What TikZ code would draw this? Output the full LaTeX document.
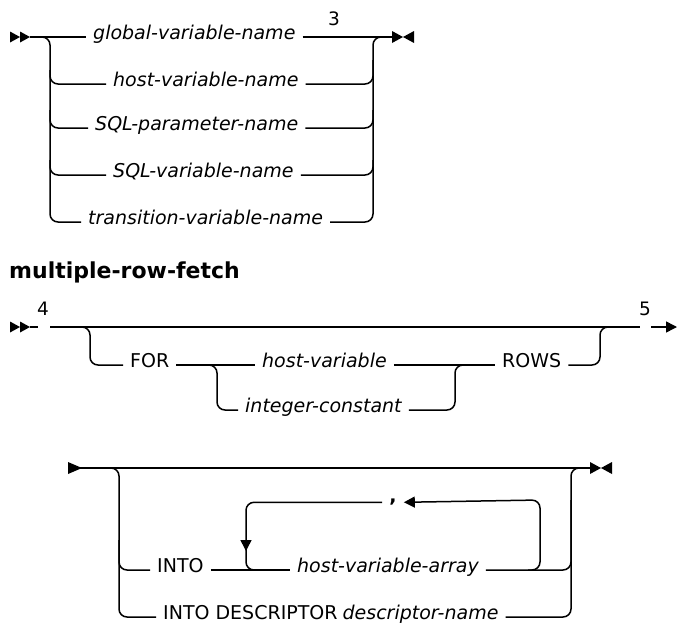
\documentclass[tikz,border=0pt]{standalone}
\usepackage{fontspec}
\setmainfont{DejaVu Sans}
\usetikzlibrary{arrows.meta}
\begin{document}
\begin{tikzpicture}[x=1pt,y=-1pt,
  rail/.style={line width=1.5pt, rounded corners=8pt},
  txt/.style={inner xsep=7pt, inner ysep=0pt, anchor=mid west, font=\fontsize{19}{22}\selectfont},
  vtxt/.style={txt, font=\fontsize{19}{22}\selectfont\itshape},
  numtxt/.style={inner sep=0pt, font=\fontsize{18.5}{20}\selectfont},
  head/.style={inner sep=0pt, anchor=west, font=\fontsize{22}{25}\selectfont\bfseries},
  tri/.style={fill=black, draw=none}]
\useasboundingbox (0,0) rectangle (677,629);

% ---------- top diagram ----------
\fill[tri] (10,31.5) -- (20,37) -- (10,42.5) -- cycle;
\fill[tri] (20,31.5) -- (30,37) -- (20,42.5) -- cycle;
\node[vtxt] (g) at (86,37) {global-variable-name};
\node[vtxt] (h) at (106,84) {host-variable-name};
\node[vtxt] (sp) at (88,128) {SQL-parameter-name};
\node[vtxt] (sv) at (106,175) {SQL-variable-name};
\node[vtxt] (tv) at (81,222) {transition-variable-name};
\node[numtxt] (n3) at (334,19) {3};
\coordinate (s1) at (30,37);
\coordinate (e1) at (392,37);
\draw[rail] (s1) -- (g.mid west);
\draw[rail] (g.mid east) -- (e1);
\draw[rail] (38,37) -| (50,222) -- (tv.mid west);
\draw[rail] (50,70) |- (h.mid west);
\draw[rail] (50,110) |- (sp.mid west);
\draw[rail] (50,160) |- (sv.mid west);
\draw[rail] (tv.mid east) -| (373,37) -- (386,37);
\draw[rail] (h.mid east) -| (373,60);
\draw[rail] (sp.mid east) -| (373,110);
\draw[rail] (sv.mid east) -| (373,160);
\fill[tri] (e1) ++(0,-6) -- ++(11,6) -- ++(-11,6) -- cycle;
\fill[tri] (e1) ++(22,-6) -- ++(-11,6) -- ++(11,6) -- cycle;

% ---------- heading ----------
\node[head] (hd) at (9,272) {multiple-row-fetch};

% ---------- middle diagram ----------
\fill[tri] (10,321.5) -- (20,327) -- (10,332.5) -- cycle;
\fill[tri] (20,321.5) -- (30,327) -- (20,332.5) -- cycle;
\node[numtxt] (n4) at (43,309) {4};
\node[numtxt] (n5) at (645,309) {5};
\coordinate (s2) at (30,327);
\coordinate (a4) at (38,327);
\coordinate (b4) at (50,327);
\coordinate (a5) at (640,327);
\coordinate (b5) at (651,327);
\coordinate (e2) at (677,327);
\node[txt] (for) at (123,365) {FOR};
\node[vtxt] (hv) at (255,365) {host-variable};
\node[vtxt] (ic) at (238,410) {integer-constant};
\node[txt] (rows) at (495,365) {ROWS};
\draw[rail] (s2) -- (a4);
\draw[rail] (b4) -- (a5);
\draw[rail, -{Triangle[length=11pt,width=11pt]}] (b5) -- (e2);
\draw[rail] (80,327) -| (90,365) -- (for.mid west);
\draw[rail] (for.mid east) -- (hv.mid west);
\draw[rail] (205,365) -| (217,410) -- (ic.mid west);
\draw[rail] (hv.mid east) -- (rows.mid west);
\draw[rail] (ic.mid east) -| (455,365) -- (467,365);
\draw[rail] (rows.mid east) -| (600,327) -- (612,327);

% ---------- bottom diagram ----------
\fill[tri] (68,462) -- (82,468) -- (68,474) -- cycle;
\coordinate (s3) at (80,468);
\coordinate (e3) at (590,468);
\draw[rail] (s3) -- (e3);
\fill[tri] (e3) ++(0,-6) -- ++(11,6) -- ++(-11,6) -- cycle;
\fill[tri] (e3) ++(22,-6) -- ++(-11,6) -- ++(11,6) -- cycle;
\node[txt] (into) at (150,570) {INTO};
\node[vtxt] (hva) at (290,570) {host-variable-array};
\node[txt] (desc) at (156,617) {INTO DESCRIPTOR\hspace{5pt}\itshape descriptor-name};
\node[inner xsep=7pt, inner ysep=0pt, anchor=mid, font=\fontsize{19}{22}\selectfont\bfseries] (cm) at (393,500) {,};
\draw[rail] (100,468) -| (119,617) -- (desc.mid west);
\draw[rail] (119,540) |- (into.mid west);
\draw[rail] (into.mid east) -- (hva.mid west);
\draw[rail] (hva.mid east) -| (571,468) -- (582,468);
\draw[rail] (desc.mid east) -| (571,500);
\draw[rail, -{Triangle[length=11pt,width=11pt]}] (528,570) -| (540,500) -- (cm.east);
\draw[rail, -{Triangle[length=11pt,width=11pt]}] (cm.west) -| (246,551);
\draw[rail] (246,545) |- (262,570);
\end{tikzpicture}
\end{document}
